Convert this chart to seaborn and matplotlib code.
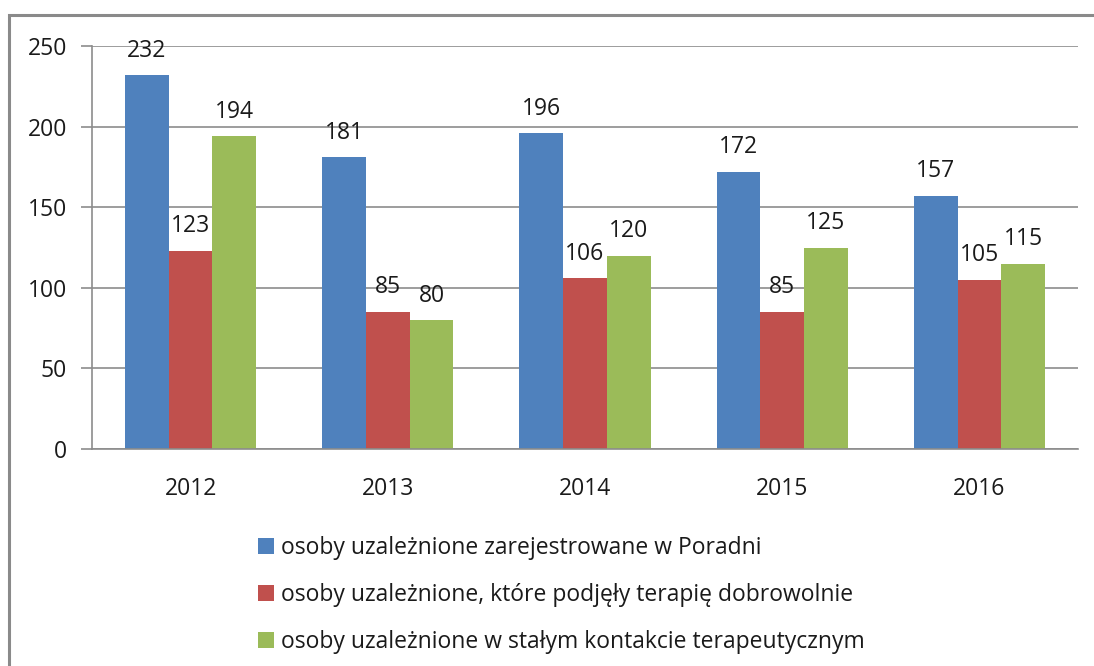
import numpy as np
import pandas as pd
import matplotlib
matplotlib.use("Agg")
import matplotlib.pyplot as plt
import seaborn as sns
from matplotlib.patches import Rectangle, Patch

years = ["2012", "2013", "2014", "2015", "2016"]
registered = [232, 181, 196, 172, 157]
voluntary = [123, 85, 106, 85, 105]
in_contact = [194, 80, 120, 125, 115]
series_names = [
    "osoby uzależnione zarejestrowane w Poradni",
    "osoby uzależnione, które podjęły terapię dobrowolnie",
    "osoby uzależnione w stałym kontakcie terapeutycznym",
]
colors = ["#4F81BD", "#C0504D", "#9BBB59"]
yticks = [0, 50, 100, 150, 200, 250]

df = pd.DataFrame({
    "year": years * 3,
    "value": registered + voluntary + in_contact,
    "series": [series_names[0]] * 5 + [series_names[1]] * 5 + [series_names[2]] * 5,
})

sns.set_style("white")
plt.rcParams["font.family"] = ["Open Sans", "DejaVu Sans"]
fs = 16.5

W, H = 1094, 666
fig = plt.figure(figsize=(W / 100, H / 100), dpi=100)
ax = fig.add_axes([92 / W, 1 - 449 / H, (1078 - 92) / W, (449 - 46) / H])

sns.barplot(data=df, x="year", y="value", hue="series", palette=colors,
            width=0.665, gap=0, ax=ax, legend=False, saturation=1,
            edgecolor="none", linewidth=0)

for c in ax.containers:
    ax.bar_label(c, fmt="%d", padding=9, fontsize=fs, color="#1a1a1a")

ax.set_ylim(0, 250)
ax.set_xlim(-0.5, 4.5)
ax.set_yticks(yticks)
ax.set_yticklabels([str(t) for t in yticks], fontsize=fs, color="#1a1a1a")
ax.set_xticks(range(len(years)))
ax.set_xticklabels(years, fontsize=fs, color="#1a1a1a")
ax.set_xticks(np.arange(-0.5, 5, 1), minor=True)
ax.tick_params(axis="x", which="major", length=0, pad=20)
ax.tick_params(axis="x", which="minor", length=7, width=1.2, color="#8c8c8c")
ax.tick_params(axis="y", length=8, width=1.2, color="#8c8c8c", pad=10, left=True)
ax.set_xlabel("")
ax.set_ylabel("")
ax.yaxis.grid(True, color="#8c8c8c", linewidth=1.2)
ax.set_axisbelow(True)
for s in ["top", "right"]:
    ax.spines[s].set_visible(False)
for s in ["left", "bottom"]:
    ax.spines[s].set_color("#8c8c8c")
    ax.spines[s].set_linewidth(1.2)

handles = [Patch(facecolor=c, edgecolor="none") for c in colors]
fig.legend(handles, series_names, loc="upper left",
           bbox_to_anchor=(249 / W, 1 - 527 / H), frameon=False,
           fontsize=fs, handlelength=0.7, handleheight=0.7,
           handletextpad=0.3, labelspacing=1.0, borderaxespad=0,
           labelcolor="#1a1a1a")

frame = Rectangle((9 / W, -0.1), 1.2, 1 - 15 / H + 0.1, transform=fig.transFigure,
                  fill=False, edgecolor="#8a8a8a", linewidth=2.2)
fig.patches.append(frame)

fig.savefig("out.png", dpi=100)
